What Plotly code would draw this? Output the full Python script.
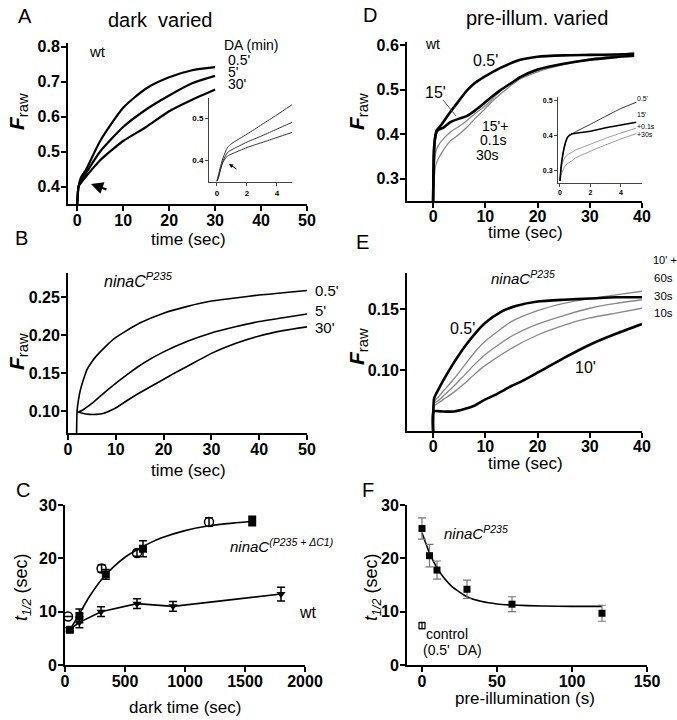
import plotly.graph_objects as go

W, H = 677, 720
FONT = "Liberation Sans, Arial, Helvetica, sans-serif"

# ---------------- Panel A: wt, dark varied ----------------
a_t = [0, 0.3, 0.8, 2, 5, 10, 15, 20, 25, 30]
a_05 = [0.35, 0.40, 0.425, 0.45, 0.53, 0.625, 0.68, 0.712, 0.732, 0.741]
a_5 = [0.35, 0.40, 0.415, 0.44, 0.50, 0.57, 0.62, 0.66, 0.695, 0.716]
a_30 = [0.35, 0.40, 0.41, 0.43, 0.475, 0.53, 0.57, 0.615, 0.648, 0.677]
# inset of A
ai_t = [0, 0.1, 0.2, 0.4, 0.7, 1, 2, 3, 4, 5]
ai_05 = [0.35, 0.365, 0.38, 0.405, 0.43, 0.44, 0.462, 0.485, 0.508, 0.532]
ai_5 = [0.35, 0.36, 0.375, 0.398, 0.418, 0.425, 0.443, 0.458, 0.474, 0.49]
ai_30 = [0.35, 0.358, 0.372, 0.395, 0.41, 0.415, 0.43, 0.442, 0.454, 0.466]

# ---------------- Panel B: ninaC P235, dark varied ----------------
b_t05 = [1.8, 1.9, 2.2, 2.6, 3.2, 4, 5, 6, 8, 10, 12, 15, 20, 25, 30, 35, 40, 45, 50]
b_05 = [0.071, 0.10, 0.115, 0.128, 0.141, 0.155, 0.165, 0.173, 0.186, 0.197, 0.205,
        0.216, 0.229, 0.238, 0.245, 0.249, 0.253, 0.256, 0.259]
b_t5 = [2, 3, 5, 7, 10.5, 13, 16, 20, 25, 30, 35, 40, 45, 50]
b_5 = [0.098, 0.101, 0.110, 0.121, 0.139, 0.151, 0.164, 0.178, 0.192, 0.203, 0.211,
       0.218, 0.223, 0.228]
b_t30 = [2, 3, 4.5, 6, 7.5, 9, 10.5, 12.3, 15, 19.2, 22, 25, 30, 35, 40, 45, 50]
b_30 = [0.099, 0.097, 0.0955, 0.0955, 0.097, 0.101, 0.106, 0.1135, 0.124, 0.139, 0.149,
        0.159, 0.176, 0.189, 0.199, 0.206, 0.211]

# ---------------- Panel C: t1/2 vs dark time ----------------
c_sq_x = [40, 120, 340, 650, 1560]
c_sq_y = [6.6, 9.2, 17.0, 21.8, 27.0]
c_sq_e = [0.4, 1.3, 0.9, 1.5, 0.9]
c_ci_x = [25, 305, 600, 1200]
c_ci_y = [9.1, 18.1, 21.0, 26.8]
c_ci_e = [0.0, 0.7, 0.6, 0.8]
c_wt_x = [40, 120, 300, 600, 900, 1800]
c_wt_y = [6.7, 8.0, 10.0, 11.5, 11.0, 13.3]
c_wt_e = [0.3, 1.0, 0.9, 0.9, 0.9, 1.3]
c_fit_x = [40, 100, 200, 300, 400, 500, 600, 700, 800, 1000, 1200, 1400, 1560]
c_fit_y = [6.6, 8.8, 12.7, 15.9, 18.3, 20.2, 21.6, 22.8, 23.8, 25.2, 26.1, 26.6, 26.9]

# ---------------- Panel D: wt, pre-illumination varied ----------------
d_t05 = [0, 0.2, 0.5, 0.7, 1.5, 3.3, 5, 6.5, 8, 9.7, 12.9, 16.7, 20, 25, 30, 35, 38.5]
d_05 = [0.25, 0.37, 0.40, 0.409, 0.42, 0.45, 0.476, 0.4985, 0.515, 0.528, 0.549, 0.567,
        0.574, 0.577, 0.578, 0.579, 0.58]
d_t = [0, 0.2, 0.5, 1, 2, 3.3, 5, 6.5, 8, 9.7, 11, 12.9, 15, 16.7, 20, 25, 30, 35, 38.5]
d_15 = [0.25, 0.37, 0.40, 0.41, 0.415, 0.427, 0.435, 0.441, 0.453, 0.469, 0.482, 0.499,
        0.515, 0.528, 0.545, 0.558, 0.567, 0.573, 0.576]
d_01 = [0.25, 0.32, 0.36, 0.375, 0.39, 0.405, 0.418, 0.431, 0.446, 0.461, 0.475, 0.497,
        0.515, 0.527, 0.542, 0.558, 0.569, 0.577, 0.584]
d_30 = [0.25, 0.30, 0.33, 0.345, 0.365, 0.385, 0.40, 0.416, 0.435, 0.454, 0.47, 0.49,
        0.51, 0.524, 0.54, 0.556, 0.568, 0.576, 0.582]
# inset of D
di_t = [0, 0.1, 0.3, 0.5, 0.8, 1, 2, 3, 4, 5]
di_05 = [0.27, 0.32, 0.37, 0.395, 0.405, 0.41, 0.432, 0.455, 0.477, 0.495]
di_15 = [0.27, 0.32, 0.37, 0.395, 0.405, 0.406, 0.412, 0.422, 0.43, 0.438]
di_01 = [0.27, 0.31, 0.335, 0.345, 0.352, 0.358, 0.375, 0.392, 0.407, 0.421]
di_30 = [0.27, 0.29, 0.31, 0.32, 0.328, 0.335, 0.355, 0.373, 0.39, 0.405]

# ---------------- Panel E: ninaC P235, pre-illumination varied ----------------
e_t05 = [0, 0.2, 1, 2, 3.5, 5, 6.5, 8, 10, 13, 16, 20, 25, 30, 35, 40]
e_05 = [0.05, 0.077, 0.084, 0.092, 0.103, 0.113, 0.122, 0.130, 0.139, 0.148, 0.153,
        0.1565, 0.158, 0.159, 0.160, 0.160]
e_t10 = [0, 0.1, 2, 4, 6, 8, 10, 12, 15, 17, 20, 25, 30, 35, 40]
e_10 = [0.05, 0.066, 0.066, 0.066, 0.068, 0.071, 0.076, 0.080, 0.087, 0.091, 0.098,
        0.110, 0.121, 0.130, 0.138]
e_tg = [0, 0.3, 1, 2, 4, 6, 8, 10, 15, 20, 25, 30, 35, 40]
e_60s = [0.05, 0.075, 0.078, 0.083, 0.093, 0.104, 0.115, 0.124, 0.140, 0.149, 0.155,
         0.159, 0.162, 0.165]
e_30s = [0.05, 0.073, 0.075, 0.079, 0.087, 0.096, 0.105, 0.113, 0.128, 0.138, 0.145,
         0.151, 0.155, 0.158]
e_10s = [0.05, 0.071, 0.073, 0.076, 0.082, 0.089, 0.097, 0.104, 0.118, 0.129, 0.137,
         0.143, 0.147, 0.151]

# ---------------- Panel F: t1/2 vs pre-illumination ----------------
f_x = [0, 5, 10, 30, 60, 120]
f_y = [25.6, 20.5, 17.8, 14.2, 11.4, 9.7]
f_e = [2.0, 2.1, 1.7, 1.7, 1.4, 1.5]
f_ctrl_x = [0]
f_ctrl_y = [7.4]
f_ctrl_e = [0.6]
f_fit_x = [0, 5, 10, 15, 20, 30, 40, 50, 60, 80, 100, 120]
f_fit_y = [24.8, 21.0, 18.2, 16.2, 14.7, 12.8, 11.9, 11.45, 11.25, 11.05, 11.0, 11.0]


def px(x):
    return x / W


def py(y):
    return 1 - y / H


fig = go.Figure()
layout = dict(template="none", width=W, height=H,
              margin=dict(l=0, r=0, t=0, b=0, pad=0, autoexpand=False),
              paper_bgcolor="white", plot_bgcolor="rgba(0,0,0,0)",
              showlegend=False, font=dict(family=FONT, color="black"))


def axes(i, xpx, ypx, xr, yr, xt, yt, ytext=None, size=16, tl=5, lw=2, lc="black",
         xso=-4, yso=-2):
    sx = "" if i == 1 else str(i)
    common = dict(showline=True, linecolor=lc, linewidth=lw, ticks="outside",
                  ticklen=tl, tickwidth=lw, tickcolor=lc, showgrid=False,
                  zeroline=False, automargin=False,
                  tickfont=dict(family=FONT, size=size, color="black", weight="bold"))
    layout["xaxis" + sx] = dict(common, domain=[px(xpx[0]), px(xpx[1])], range=xr,
                                tickmode="array", tickvals=xt, ticklabelstandoff=xso,
                                anchor="y" + sx)
    yd = dict(common, domain=[py(ypx[1]), py(ypx[0])], range=yr, tickmode="array",
              tickvals=yt, ticklabelstandoff=yso, anchor="x" + sx)
    if ytext is not None:
        yd["ticktext"] = ytext
    layout["yaxis" + sx] = yd
    return "x" + sx, "y" + sx


A = axes(1, (68, 307), (43, 204), [-2, 50], [0.35, 0.81], [0, 10, 20, 30, 40, 50],
         [0.4, 0.5, 0.6, 0.7, 0.8])
AI = axes(2, (209, 292), (98, 182), [-0.53, 5], [0.348, 0.548], [0, 2, 4], [0.4, 0.5],
          size=8, tl=3, lw=1, lc="#444", xso=0, yso=0)
B = axes(3, (68, 307), (273, 433), [0, 50], [0.071, 0.282], [0, 10, 20, 30, 40, 50],
         [0.10, 0.15, 0.20, 0.25], ["0.10", "0.15", "0.20", "0.25"])
C = axes(4, (65, 305), (505, 665), [0, 2000], [0, 30], [0, 500, 1000, 1500, 2000],
         [0, 10, 20, 30])
D = axes(5, (407, 642), (42, 201), [-5, 40], [0.25, 0.607], [0, 10, 20, 30, 40],
         [0.3, 0.4, 0.5, 0.6], xso=-5)
DI = axes(6, (558, 642), (97, 183), [-0.13, 5.38], [0.264, 0.51], [0, 2, 4],
          [0.3, 0.4, 0.5], size=7, tl=3, lw=1, lc="#444", xso=0, yso=0)
E = axes(7, (407, 642), (273, 431), [-5, 40], [0.05, 0.18], [0, 10, 20, 30, 40],
         [0.10, 0.15], ["0.10", "0.15"], xso=-5)
F = axes(8, (407, 647), (505, 665), [-10, 150], [0, 30], [0, 50, 100, 150],
         [0, 10, 20, 30])


def line(ax, x, y, color="black", width=2.0, shape="spline"):
    fig.add_trace(go.Scatter(x=x, y=y, mode="lines", xaxis=ax[0], yaxis=ax[1],
                             line=dict(color=color, width=width, shape=shape,
                                       smoothing=0.6),
                             hoverinfo="skip"))


# A
for yy in (a_05, a_5, a_30):
    line(A, a_t, yy, width=2.2)
for yy in (ai_05, ai_5, ai_30):
    line(AI, ai_t, yy, color="#333", width=1)
# B
line(B, b_t05, b_05, width=1.6)
line(B, b_t5, b_5, width=1.6)
line(B, b_t30, b_30, width=1.6)
# C
line(C, c_fit_x, c_fit_y, width=1.6)
fig.add_trace(go.Scatter(x=c_wt_x, y=c_wt_y, mode="lines+markers", xaxis=C[0], yaxis=C[1],
                         line=dict(color="black", width=1.6),
                         marker=dict(symbol="triangle-down", size=8, color="black"),
                         error_y=dict(type="data", array=c_wt_e, color="black",
                                      thickness=1.5, width=4)))
fig.add_trace(go.Scatter(x=c_ci_x, y=c_ci_y, mode="markers", xaxis=C[0], yaxis=C[1],
                         marker=dict(symbol="circle-open", size=9, color="black",
                                     line=dict(width=1.5)),
                         error_y=dict(type="data", array=c_ci_e, color="black",
                                      thickness=1.5, width=4)))
fig.add_trace(go.Scatter(x=c_sq_x, y=c_sq_y, mode="markers", xaxis=C[0], yaxis=C[1],
                         marker=dict(symbol="square", size=8, color="black"),
                         error_y=dict(type="data", array=c_sq_e, color="black",
                                      thickness=1.5, width=4)))
# D
line(D, d_t, d_30, color="#888", width=1.3)
line(D, d_t, d_01, color="#888", width=1.3)
line(D, d_t05, d_05, width=2.6)
line(D, d_t, d_15, width=2.6)
line(DI, di_t, di_30, color="#999", width=1)
line(DI, di_t, di_01, color="#999", width=1)
line(DI, di_t, di_05, color="#333", width=1)
line(DI, di_t, di_15, color="black", width=1.6)
# E
line(E, e_tg, e_10s, color="#888", width=1.3)
line(E, e_tg, e_30s, color="#888", width=1.3)
line(E, e_tg, e_60s, color="#888", width=1.3)
line(E, e_t05, e_05, width=2.6)
line(E, e_t10, e_10, width=2.6)
# F
line(F, f_fit_x, f_fit_y, width=1.6)
fig.add_trace(go.Scatter(x=f_x, y=f_y, mode="markers", xaxis=F[0], yaxis=F[1],
                         marker=dict(symbol="square", size=7, color="black"),
                         error_y=dict(type="data", array=f_e, color="#777",
                                      thickness=1.2, width=4)))
fig.add_trace(go.Scatter(x=f_ctrl_x, y=f_ctrl_y, mode="markers", xaxis=F[0], yaxis=F[1],
                         marker=dict(symbol="square-open", size=6, color="black",
                                     line=dict(width=1.2)),
                         error_y=dict(type="data", array=f_ctrl_e, color="black",
                                      thickness=1.2, width=3)))

anns = []


def text(t, x, y, size=15, xanchor="center", angle=0, color="black"):
    anns.append(dict(text=t, x=px(x), y=py(y), xref="paper", yref="paper",
                     xanchor=xanchor, yanchor="middle", showarrow=False,
                     textangle=angle,
                     font=dict(family=FONT, size=size, color=color)))


FRAW = "<b><i>F</i></b><sub>raw</sub>"
T12 = "<i>t</i><sub><i>1/2</i></sub> (sec)"
NINA = "<i>ninaC</i><sup><i>P235</i></sup>"

# panel letters and titles
text("A", 25, 16, 20)
text("B", 22, 238, 20)
text("C", 23, 490, 20)
text("D", 370, 15, 20)
text("E", 362, 242, 20)
text("F", 368, 490, 20)
text("dark\u00a0\u00a0varied", 160, 20, 20)
text("pre-illum. varied", 537, 18, 20)

# axis titles
text("time (sec)", 188, 240, 17)
text("time (sec)", 188, 470, 17)
text("dark time (sec)", 185, 707, 17)
text("time (sec)", 525, 233, 17)
text("time (sec)", 525, 463, 17)
text("pre-illumination (s)", 525, 698, 17)
text(FRAW, 18, 112, 21, angle=-90)
text(FRAW, 18, 352, 21, angle=-90)
text(T12, 22, 587, 18, angle=-90)
text(FRAW, 358, 112, 21, angle=-90)
text(FRAW, 358, 347, 21, angle=-90)
text(T12, 372, 587, 18, angle=-90)

# A labels
text("wt", 97, 52, 15)
text("DA (min)", 222, 45, 14, xanchor="left")
text("0.5'", 226, 60, 14, xanchor="left")
text("5'", 226, 72, 14, xanchor="left")
text("30'", 226, 84, 14, xanchor="left")
# B labels
text(NINA, 102, 280, 16, xanchor="left")
text("0.5'", 313, 290, 15, xanchor="left")
text("5'", 313, 310, 15, xanchor="left")
text("30'", 313, 328, 15, xanchor="left")
# C labels
text("<i>ninaC</i><sup><i>(P235 + \u0394C1)</i></sup>", 228, 545, 15, xanchor="left")
text("wt", 297, 612, 16, xanchor="left")
# D labels
text("wt", 423, 44, 14, xanchor="left")
text("0.5'", 471, 60, 16, xanchor="left")
text("15'", 423, 92, 16, xanchor="left")
text("15'+", 480, 126, 14, xanchor="left")
text("0.1s", 478, 140, 14, xanchor="left")
text("30s", 474, 155, 14, xanchor="left")
text("0.5'", 635, 99, 7, xanchor="left")
text("15'", 635, 115, 7, xanchor="left")
text("+0.1s", 635, 126, 7, xanchor="left")
text("+30s", 635, 134, 7, xanchor="left")
# E labels
text("10' +", 651, 260, 11, xanchor="left")
text(NINA, 489, 277, 15, xanchor="left")
text("60s", 652, 278, 11.5, xanchor="left")
text("30s", 652, 296, 11.5, xanchor="left")
text("10s", 652, 313, 11.5, xanchor="left")
text("0.5'", 448, 329, 16, xanchor="left")
text("10'", 573, 367, 16, xanchor="left")
# F labels
text(NINA, 442, 532, 15, xanchor="left")
text("control", 424, 634, 14, xanchor="left")
text("(0.5'\u00a0\u00a0DA)", 421, 650, 14, xanchor="left")

# arrows
anns.append(dict(x=px(91), y=py(184), xref="paper", yref="paper", showarrow=True,
                 ax=17, ay=6, arrowhead=2, arrowsize=1.1, arrowwidth=2.2,
                 arrowcolor="black", text=""))
anns.append(dict(x=px(229), y=py(164), xref="paper", yref="paper", showarrow=True,
                 ax=9, ay=6, arrowhead=2, arrowsize=0.8, arrowwidth=1,
                 arrowcolor="black", text=""))
layout["annotations"] = anns
layout["shapes"] = [dict(type="line", xref="paper", yref="paper",
                         x0=px(443), y0=py(100), x1=px(456), y1=py(116),
                         line=dict(color="#555", width=1))]

fig.update_layout(**layout)
# place the 677x720 figure flush with the page corner (no default body margin)
fig.write_html("out.html",
               config={"displayModeBar": False, "staticPlot": True},
               post_script="document.body.style.margin='0';"
                           "document.body.style.overflow='hidden';")
